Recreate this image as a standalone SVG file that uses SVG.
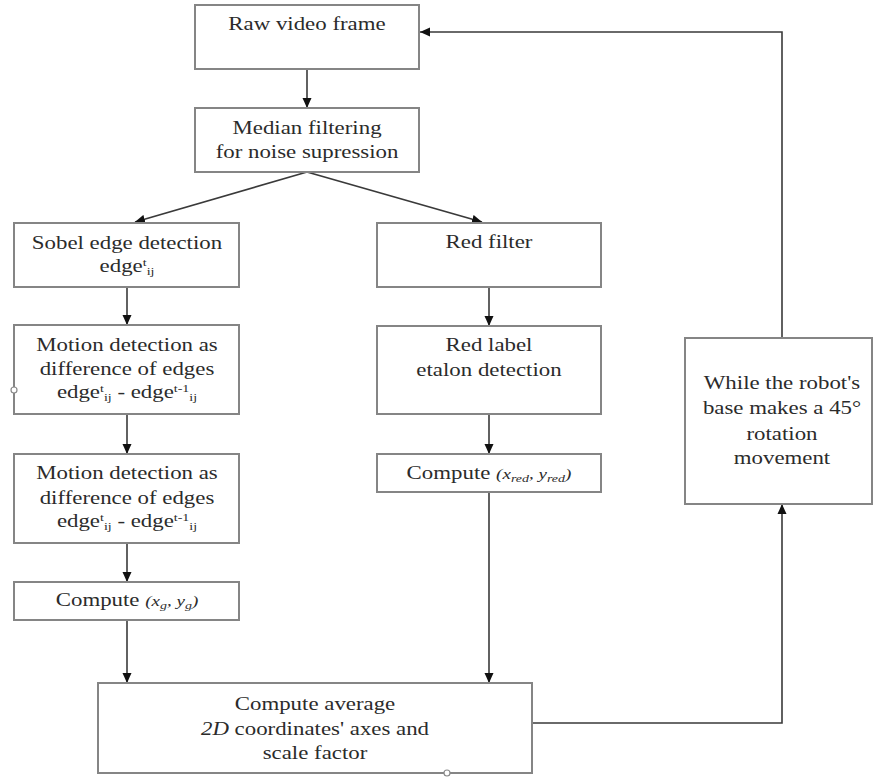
<svg xmlns="http://www.w3.org/2000/svg" width="876" height="782" viewBox="0 0 876 782" font-family="'Liberation Serif', 'Times New Roman', 'DejaVu Serif', serif">
<style>
.box{fill:#fff;stroke:#858585;stroke-width:2}
.c{fill:none;stroke:#3a3a3a;stroke-width:1.6}
.t{font-family:'Liberation Serif','Times New Roman','DejaVu Serif',serif;font-size:18px;fill:#2b2b2b;text-anchor:middle}
.i{font-style:italic}
.s{font-size:11px}
.h{fill:#fff;stroke:#8a8a8a;stroke-width:1.2}
</style>
<defs>
<marker id="a" markerUnits="userSpaceOnUse" markerWidth="10" markerHeight="10" refX="10" refY="5" orient="auto">
<path d="M0,0.5 L10,5 L0,9.5 z" fill="#111"/>
</marker>
</defs>
<rect width="876" height="782" fill="#fff"/>

<g id="connectors">
<line class="c" x1="307" y1="69" x2="307" y2="108" marker-end="url(#a)"/>
<line class="c" x1="307" y1="172" x2="135" y2="222" marker-end="url(#a)"/>
<line class="c" x1="307" y1="172" x2="482" y2="222" marker-end="url(#a)"/>
<line class="c" x1="127" y1="287" x2="127" y2="325" marker-end="url(#a)"/>
<line class="c" x1="127" y1="414" x2="127" y2="454" marker-end="url(#a)"/>
<line class="c" x1="127" y1="543" x2="127" y2="582" marker-end="url(#a)"/>
<line class="c" x1="127" y1="620" x2="127" y2="683" marker-end="url(#a)"/>
<line class="c" x1="489" y1="287" x2="489" y2="326" marker-end="url(#a)"/>
<line class="c" x1="489" y1="414" x2="489" y2="454" marker-end="url(#a)"/>
<line class="c" x1="489" y1="492" x2="489" y2="683" marker-end="url(#a)"/>
<polyline class="c" points="532,723 782,723 782,504" marker-end="url(#a)"/>
<polyline class="c" points="782,338 782,32 420,32" marker-end="url(#a)"/>
</g>

<g id="raw">
<rect class="box" x="195" y="5" width="224" height="64"/>
<text class="t" transform="translate(307,30) scale(1.27,1)">Raw video frame</text>
</g>

<g id="median">
<rect class="box" x="195" y="108" width="224" height="64"/>
<text class="t" transform="translate(307,134) scale(1.27,1)">Median filtering</text>
<text class="t" transform="translate(307,158) scale(1.27,1)">for noise supression</text>
</g>

<g id="sobel">
<rect class="box" x="14" y="223" width="225" height="64"/>
<text class="t" transform="translate(127,249) scale(1.27,1)">Sobel edge detection</text>
<text class="t" transform="translate(127,272) scale(1.27,1)">edge<tspan class="s" dy="-6">t</tspan><tspan class="s" dy="9">ij</tspan></text>
</g>

<g id="motion1">
<rect class="box" x="14" y="325" width="225" height="89"/>
<text class="t" transform="translate(127,351) scale(1.27,1)">Motion detection as</text>
<text class="t" transform="translate(127,375) scale(1.27,1)">difference of edges</text>
<text class="t" transform="translate(127,398) scale(1.27,1)">edge<tspan class="s" dy="-6">t</tspan><tspan class="s" dy="9">ij</tspan><tspan dy="-3"> - edge</tspan><tspan class="s" dy="-6">t-1</tspan><tspan class="s" dy="9">ij</tspan></text>
<circle class="h" cx="14" cy="390" r="3"/>
</g>

<g id="motion2">
<rect class="box" x="14" y="454" width="225" height="89"/>
<text class="t" transform="translate(127,479) scale(1.27,1)">Motion detection as</text>
<text class="t" transform="translate(127,504) scale(1.27,1)">difference of edges</text>
<text class="t" transform="translate(127,527) scale(1.27,1)">edge<tspan class="s" dy="-6">t</tspan><tspan class="s" dy="9">ij</tspan><tspan dy="-3"> - edge</tspan><tspan class="s" dy="-6">t-1</tspan><tspan class="s" dy="9">ij</tspan></text>
</g>

<g id="computeg">
<rect class="box" x="14" y="582" width="225" height="38"/>
<text class="t" transform="translate(127,606) scale(1.27,1)">Compute <tspan class="i" font-size="15">(x</tspan><tspan class="i s" dy="3">g</tspan><tspan class="i" font-size="15" dy="-3">, y</tspan><tspan class="i s" dy="3">g</tspan><tspan class="i" font-size="15" dy="-3">)</tspan></text>
</g>

<g id="redfilter">
<rect class="box" x="377" y="223" width="224" height="64"/>
<text class="t" transform="translate(489,248) scale(1.27,1)">Red filter</text>
</g>

<g id="redlabel">
<rect class="box" x="377" y="326" width="224" height="88"/>
<text class="t" transform="translate(489,351) scale(1.27,1)">Red label</text>
<text class="t" transform="translate(489,376) scale(1.27,1)">etalon detection</text>
</g>

<g id="computered">
<rect class="box" x="377" y="454" width="224" height="38"/>
<text class="t" transform="translate(489,479) scale(1.27,1)">Compute <tspan class="i" font-size="15">(x</tspan><tspan class="i s" dy="3">red</tspan><tspan class="i" font-size="15" dy="-3">, y</tspan><tspan class="i s" dy="3">red</tspan><tspan class="i" font-size="15" dy="-3">)</tspan></text>
</g>

<g id="rotation">
<rect class="box" x="685" y="338" width="187" height="166"/>
<text class="t" transform="translate(782,389) scale(1.27,1)">While the robot's</text>
<text class="t" transform="translate(782,414) scale(1.27,1)">base makes a 45°</text>
<text class="t" transform="translate(782,440) scale(1.27,1)">rotation</text>
<text class="t" transform="translate(782,464) scale(1.27,1)">movement</text>
</g>

<g id="average">
<rect class="box" x="98" y="683" width="434" height="90"/>
<text class="t" transform="translate(315,710) scale(1.27,1)">Compute average</text>
<text class="t" transform="translate(315,735) scale(1.27,1)"><tspan class="i">2D</tspan> coordinates' axes and</text>
<text class="t" transform="translate(315,759) scale(1.27,1)">scale factor</text>
<circle class="h" cx="447" cy="773" r="3"/>
</g>
</svg>
